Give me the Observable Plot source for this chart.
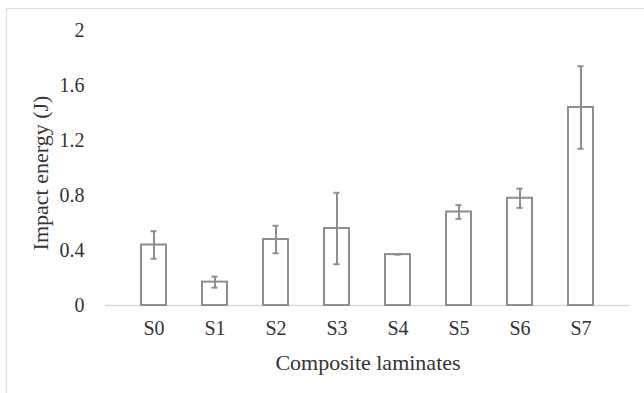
<!DOCTYPE html>
<html>
<head>
<meta charset="utf-8">
<script src="https://cdn.jsdelivr.net/npm/d3@7"></script>
<script src="https://cdn.jsdelivr.net/npm/@observablehq/plot@0.6"></script>
<style>
  html, body { margin: 0; padding: 0; background: #fff; }
  body { width: 644px; height: 393px; overflow: hidden; position: relative; }
  #border { position: absolute; left: 6px; top: 8px; width: 700px; height: 500px;
            border: 1.5px solid #d9d9d9; box-sizing: border-box; pointer-events: none; }
  #chart { position: absolute; left: 0; top: 0; }
</style>
</head>
<body>
<div id="chart"></div>
<div id="border"></div>
<script>
const categories = ["S0", "S1", "S2", "S3", "S4", "S5", "S6", "S7"];
const values = [0.44, 0.17, 0.48, 0.56, 0.37, 0.68, 0.78, 1.44];
const errors = [0.10, 0.04, 0.10, 0.26, 0.00, 0.05, 0.07, 0.30];
const yTicks = [0, 0.4, 0.8, 1.2, 1.6, 2];
const yTickLabels = ["0", "0.4", "0.8", "1.2", "1.6", "2"];
const xTitle = "Composite laminates";
const yTitle = "Impact energy (J)";

const data = categories.map((c, i) => ({cat: c, v: values[i], lo: values[i] - errors[i], hi: values[i] + errors[i]}));
const errData = data.filter(d => d.hi > d.lo);

const gray = "#8e8e8e";
const chart = Plot.plot({
  width: 644,
  height: 393,
  marginLeft: 105,
  marginRight: 14,
  marginTop: 30,
  marginBottom: 88,
  style: {fontFamily: "'Liberation Serif', 'Times New Roman', serif", fontSize: "20px", color: "#333", background: "transparent"},
  x: {domain: categories, padding: 0.59, label: null, tickSize: 0, tickPadding: 15},
  y: {domain: [0, 2], ticks: yTicks, tickFormat: (d) => yTickLabels[yTicks.indexOf(d)] ?? String(d), label: null, tickSize: 0, tickPadding: 21},
  marks: [
    Plot.ruleY([0], {stroke: "#d9d9d9", strokeWidth: 1.5}),
    Plot.barY(data, {x: "cat", y: "v", fill: "white", stroke: gray, strokeWidth: 2}),
    Plot.ruleX(errData, {x: "cat", y1: "lo", y2: "hi", stroke: gray, strokeWidth: 2}),
    Plot.tickY(errData, {x: "cat", y: "hi", stroke: gray, strokeWidth: 2, insetLeft: 9.5, insetRight: 9.5}),
    Plot.tickY(errData, {x: "cat", y: "lo", stroke: gray, strokeWidth: 2, insetLeft: 9.5, insetRight: 9.5}),
    Plot.tickY(data.filter(d => d.hi === d.lo), {x: "cat", y: "hi", stroke: gray, strokeWidth: 2, insetLeft: 9.5, insetRight: 9.5}),
    Plot.text([yTitle], {frameAnchor: "left", rotate: -90, dx: -65, dy: 5, textAnchor: "middle", lineAnchor: "middle", fontSize: 22, fill: "#333"}),
    Plot.text([xTitle], {frameAnchor: "bottom", dy: 57, textAnchor: "middle", lineAnchor: "middle", fontSize: 22, fill: "#333"})
  ]
});
document.getElementById("chart").appendChild(chart);
</script>
</body>
</html>
